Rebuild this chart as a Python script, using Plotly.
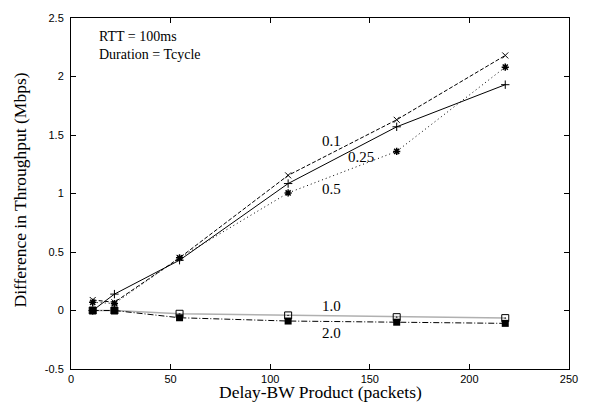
import plotly.graph_objects as go

dbw = [10.9, 21.8, 54.5, 109, 163.5, 218]
s_01 = [0.09, 0.07, 0.45, 1.155, 1.63, 2.18]
s_025 = [0.0, 0.14, 0.43, 1.085, 1.57, 1.93]
s_05 = [0.07, 0.06, 0.45, 1.005, 1.36, 2.08]
s_10 = [0.0, 0.0, -0.028, -0.042, -0.057, -0.065]
s_20 = [0.0, 0.0, -0.062, -0.09, -0.10, -0.11]

x_ticks = [0, 50, 100, 150, 200, 250]
y_ticks = [-0.5, 0, 0.5, 1, 1.5, 2, 2.5]
y_tick_text = ["-0.5", "0", "0.5", "1", "1.5", "2", "2.5"]

fig = go.Figure()

fig.add_trace(go.Scatter(x=dbw, y=s_10, mode="lines+markers",
                         line=dict(color="#b0b0b0", width=1.5),
                         marker=dict(symbol="square-open-dot", size=7, color="black", line=dict(width=1))))
fig.add_trace(go.Scatter(x=dbw, y=s_20, mode="lines+markers",
                         line=dict(color="black", width=1, dash="6px,2px,1px,2px"),
                         marker=dict(symbol="square", size=7, color="black")))
fig.add_trace(go.Scatter(x=dbw, y=s_05, mode="lines+markers",
                         line=dict(color="black", width=1, dash="1px,3px"),
                         marker=dict(symbol="asterisk-open", size=6, color="black", line=dict(width=1.5, color="black"))))
fig.add_trace(go.Scatter(x=dbw, y=s_025, mode="lines+markers",
                         line=dict(color="black", width=1),
                         marker=dict(symbol="cross-thin-open", size=6, color="black", line=dict(width=1, color="black"))))
fig.add_trace(go.Scatter(x=dbw, y=s_01, mode="lines+markers",
                         line=dict(color="black", width=1, dash="4px,2px"),
                         marker=dict(symbol="x-thin-open", size=6, color="black", line=dict(width=1, color="black"))))

serif = "Liberation Serif, Times New Roman, serif"
annots = [
    dict(x=130.7, y=1.45, text="0.1"),
    dict(x=145.5, y=1.31, text="0.25"),
    dict(x=130.7, y=1.04, text="0.5"),
    dict(x=130.7, y=0.036, text="1.0"),
    dict(x=130.7, y=-0.19, text="2.0"),
]
for a in annots:
    fig.add_annotation(x=a["x"], y=a["y"], text=a["text"], showarrow=False,
                       xref="x", yref="y", xanchor="center", yanchor="middle",
                       font=dict(family=serif, size=15, color="#000000"))

fig.add_annotation(x=12.9, y=2.345, text="RTT = 100ms", showarrow=False, xref="x", yref="y",
                   xanchor="left", yanchor="middle", font=dict(family=serif, size=14, color="#000000"))
fig.add_annotation(x=12.9, y=2.185, text="Duration = Tcycle", showarrow=False, xref="x", yref="y",
                   xanchor="left", yanchor="middle", font=dict(family=serif, size=14, color="#000000"))

fig.add_annotation(x=0.5, y=0, xref="paper", yref="paper", text="Delay-BW Product (packets)",
                   showarrow=False, xanchor="center", yanchor="middle", yshift=-23,
                   font=dict(family=serif, size=17.5, color="#000000"))
fig.add_annotation(x=0, y=0.5, xref="paper", yref="paper", text="Difference in Throughput (Mbps)",
                   showarrow=False, xanchor="center", yanchor="middle", xshift=-52, yshift=3,
                   textangle=-90, font=dict(family=serif, size=17.5, color="#000000"))

axis_common = dict(showgrid=False, zeroline=False, showline=True, linecolor="black", linewidth=1,
                   mirror="ticks", ticks="inside", ticklen=5, tickcolor="black", tickwidth=1,
                   tickfont=dict(family="Liberation Sans, Arial, sans-serif", size=11, color="black"))

fig.update_layout(
    width=590, height=402,
    margin=dict(l=71, r=14, t=15, b=33),
    paper_bgcolor="white", plot_bgcolor="white",
    showlegend=False,
    xaxis=dict(range=[0, 250], tickvals=x_ticks, ticktext=[str(v) for v in x_ticks],
               ticklabelstandoff=0, **axis_common),
    yaxis=dict(range=[-0.5, 2.5], tickvals=y_ticks, ticktext=y_tick_text,
               ticklabelstandoff=4, **axis_common),
)

fig.write_html("out.html")
